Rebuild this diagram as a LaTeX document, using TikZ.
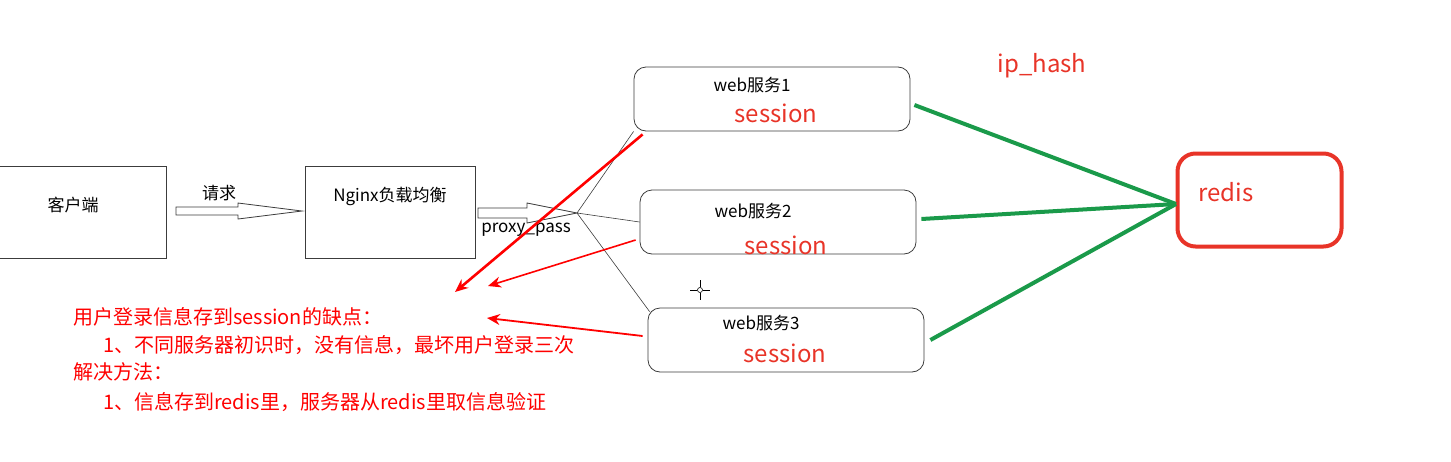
\documentclass[tikz,border=0pt]{standalone}
\usepackage{fontspec}
\setmainfont{Noto Sans CJK SC}
\usetikzlibrary{arrows.meta,positioning}
\definecolor{tipred}{RGB}{255,0,0}
\definecolor{sesred}{RGB}{232,52,40}
\definecolor{linkgreen}{RGB}{26,154,74}
\definecolor{boxgray}{RGB}{60,60,60}
\tikzset{
  plainbox/.style={draw=boxgray,line width=0.8pt,inner sep=0pt},
  webbox/.style={plainbox,rounded corners=12pt,minimum width=276pt,minimum height=64pt},
  lbl/.style={font=\fontsize{17}{20}\selectfont,inner sep=0pt},
  seslbl/.style={font=\fontsize{24}{28}\selectfont,text=sesred,inner sep=0pt},
  note/.style={anchor=west,font=\fontsize{20}{23}\selectfont,text=tipred,inner sep=0pt},
  hollow/.style={draw=boxgray,line width=0.8pt,fill=white},
  feed/.style={linkgreen,line width=4pt},
  back/.style={tipred,-{Stealth[length=13pt,width=11pt]}},
}
\begin{document}
\begin{tikzpicture}[x=1pt,y=-1pt]
\useasboundingbox (0,0) rectangle (1451,461);
% Client and balancer
\node[plainbox,minimum width=177pt,minimum height=92pt] (client) at (78,212) {};
\node[lbl] (clienttxt) at (73,205) {客户端};
\node[plainbox,minimum width=170pt,minimum height=92pt] (nginx) at (390,212) {};
\node[lbl] (nginxtxt) at (390,196) {Nginx负载均衡};
% Request arrow
\draw[hollow] (176,207) -- (238,207) -- (238,203) -- (302,211) -- (238,219) -- (238,215) -- (176,215) -- cycle;
\node[lbl] (req) at (219,193) {请求};
% proxy_pass arrow
\coordinate (hub) at (577,213);
\draw[hollow] (478,208) -- (527,208) -- (527,203) -- (hub) -- (527,223) -- (527,218) -- (478,218) -- cycle;
\node[lbl] (proxy) at (526,230) {proxy\_pass};
% Web servers
\node[webbox] (web1) at (772,99) {};
\node[lbl] (web1txt) at (752,85) {web服务1};
\node[seslbl] (ses1) at (776,113) {session};
\node[webbox] (web2) at (778,222) {};
\node[lbl] (web2txt) at (753,211) {web服务2};
\node[seslbl] (ses2) at (786,245) {session};
\node[webbox] (web3) at (786,340) {};
\node[lbl] (web3txt) at (761,323) {web服务3};
\node[seslbl] (ses3) at (785,353) {session};
% Distribution lines
\draw[boxgray,line width=0.6pt] (hub) -- (web1.south west);
\draw[boxgray,line width=0.6pt] (hub) -- (web2.west);
\draw[boxgray,line width=0.6pt] (hub) -- ([xshift=2pt,yshift=-4pt]web3.north west);
% Redis
\node[draw=sesred,line width=4pt,rounded corners=18pt,minimum width=164pt,minimum height=93pt] (redis) at (1259.5,200) {};
\node[seslbl] (redistxt) at (1226,192) {redis};
\node[seslbl] (hash) at (1042,66) {ip\_hash};
\coordinate (rin) at (1176,204);
\draw[feed] ([xshift=4pt,yshift=-6pt]web1.east) -- (rin);
\draw[feed] ([xshift=5pt,yshift=3pt]web2.east) -- (rin);
\draw[feed] ([xshift=6pt]web3.east) -- (rin);
% Notes
\node[note] (n1) at (73,317) {用户登录信息存到session的缺点：};
\node[note] (n2) at (103,345) {1、不同服务器初识时，没有信息，最坏用户登录三次};
\node[note] (n3) at (73,372) {解决方法：};
\node[note] (n4) at (103,402) {1、信息存到redis里，服务器从redis里取信息验证};
\coordinate (t1) at (455,292);
\coordinate (t2) at (488,286);
\coordinate (t3) at (487,318);
\draw[back,line width=2.6pt] ([xshift=9pt,yshift=-3pt]web1.south west) -- (t1);
\draw[back,line width=1.6pt] ([xshift=-4pt,yshift=-18pt]web2.west) -- (t2);
\draw[back,line width=1.8pt] ([xshift=-5pt,yshift=4pt]web3.west) -- (t3);
% Cursor
\node[draw,circle,inner sep=0pt,minimum size=5pt,line width=0.6pt] (cur) at (700,290) {};
\draw[line width=0.8pt] (700,280) -- (cur.north) (cur.south) -- (700,300) (690,290) -- (cur.west) (cur.east) -- (710,290);
\end{tikzpicture}
\end{document}
